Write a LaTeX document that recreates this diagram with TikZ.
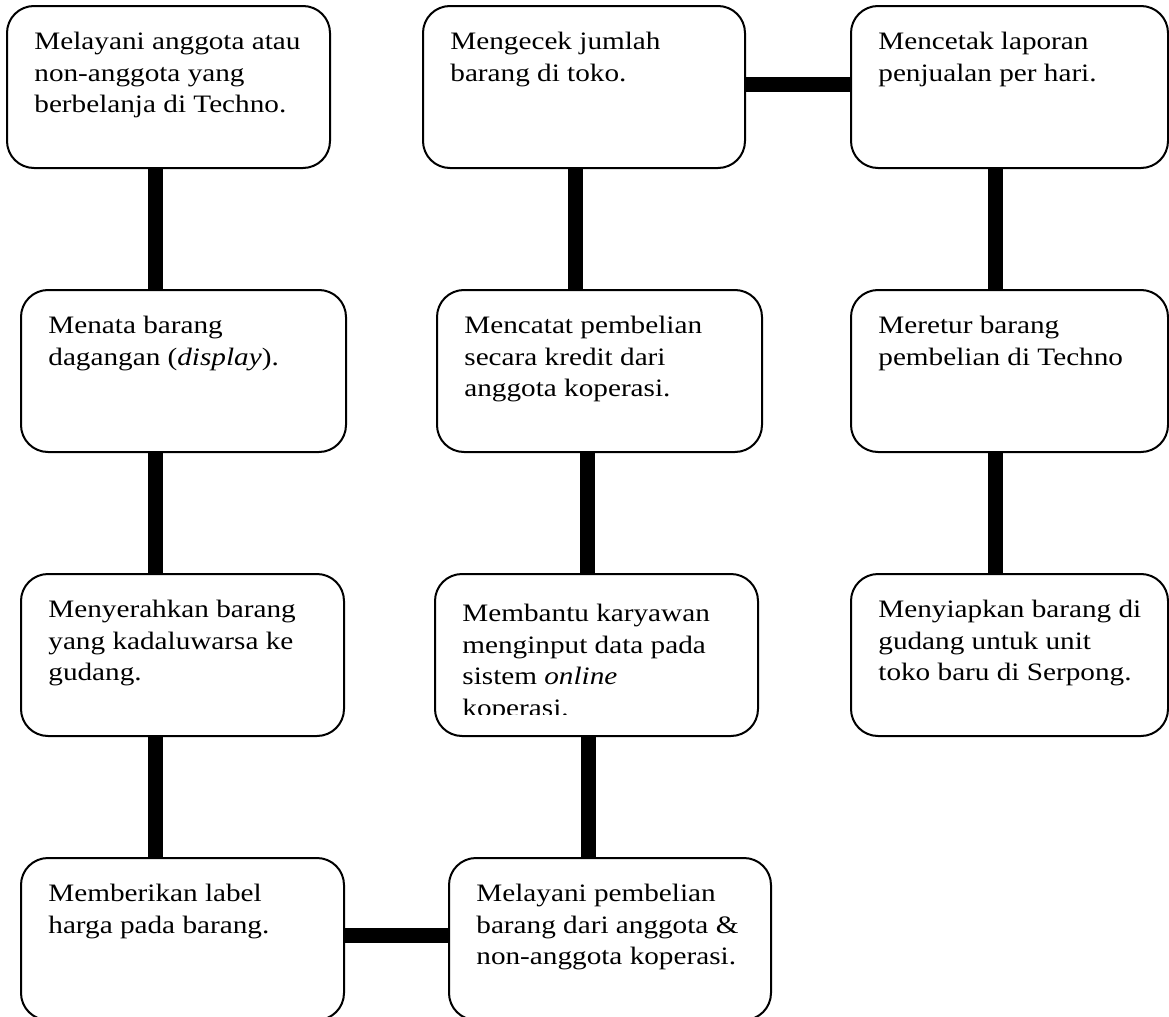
\documentclass[tikz,border=0pt]{standalone}
\usepackage{fontspec}
\setmainfont[FakeStretch=1.165]{Liberation Serif}
\usetikzlibrary{calc}
\tikzset{
%Define style for the rounded boxes
step box/.style={draw, line width=1pt, rounded corners=13.5pt, fill=white,
inner sep=0pt, anchor=north west, minimum height=81pt},
%Define style for the text inside a box
step text/.style={anchor=north west, inner sep=0pt, align=left,
font=\fontsize{12.54}{15.85}\selectfont},
%Define style for the thick connections
link line/.style={line width=7.5pt}, }

\begin{document}
\begin{tikzpicture}[x=0.5pt, y=-0.5pt]

\clip (0,0) rectangle (1169,1017);
\fill[white] (0,0) rectangle (1169,1017);

\path coordinate (colA) at (155,0) coordinate (colB1) at (575,0)
coordinate (colB2) at (587,0) coordinate (colB3) at (588,0)
coordinate (colC) at (995,0) coordinate (rowT) at (0,84)
coordinate (rowB) at (0,935);

% first column
\node[step box, minimum width=161.5pt] (a1) at (6,5) {};
\node[step box, minimum width=162.5pt] (a2) at (20,289) {};
\node[step box, minimum width=161.5pt] (a3) at (20,573) {};
\node[step box, minimum width=161.5pt] (a4) at (20,857) {};

% second column
\node[step box, minimum width=161pt] (b1) at (422,5) {};
\node[step box, minimum width=162.5pt] (b2) at (436,289) {};
\node[step box, minimum width=161.5pt] (b3) at (434,573) {};
\node[step box, minimum width=161pt] (b4) at (448,857) {};

% third column
\node[step box, minimum width=158.5pt] (c1) at (850,5) {};
\node[step box, minimum width=158.5pt] (c2) at (850,289) {};
\node[step box, minimum width=158.5pt] (c3) at (850,573) {};

\draw[link line] (a1.south -| colA) -- (a2.north -| colA);
\draw[link line] (a2.south -| colA) -- (a3.north -| colA);
\draw[link line] (a3.south -| colA) -- (a4.north -| colA);
\draw[link line] (a4.east |- rowB) -- (b4.west |- rowB);
\draw[link line] (b4.north -| colB3) -- (b3.south -| colB3);
\draw[link line] (b3.north -| colB2) -- (b2.south -| colB2);
\draw[link line] (b2.north -| colB1) -- (b1.south -| colB1);
\draw[link line] (b1.east |- rowT) -- (c1.west |- rowT);
\draw[link line] (c1.south -| colC) -- (c2.north -| colC);
\draw[link line] (c2.south -| colC) -- (c3.north -| colC);

\node[step text] (a1t) at ($(a1.north west)+(28,22)$) {\strut Melayani
anggota atau\\ non-anggota yang\\ berbelanja di Techno.};
\node[step text] (a2t) at ($(a2.north west)+(28,22)$) {\strut Menata
barang\\ dagangan (\textit{display}).};
\node[step text] (a3t) at ($(a3.north west)+(28,22)$) {\strut Menyerahkan
barang\\ yang kadaluwarsa ke\\ gudang.};
\node[step text] (a4t) at ($(a4.north west)+(28,22)$) {\strut Memberikan
label\\ harga pada barang.};

\node[step text] (b1t) at ($(b1.north west)+(28,22)$) {\strut Mengecek
jumlah\\ barang di toko.};
\node[step text] (b2t) at ($(b2.north west)+(28,22)$) {\strut Mencatat
pembelian\\ secara kredit dari\\ anggota koperasi.};
\begin{scope}
\clip (434,573) rectangle (757,714);
\node[step text] (b3t) at ($(b3.north west)+(28,26)$) {\strut Membantu
karyawan\\ menginput data pada\\ sistem \textit{online}\\ koperasi.};
\end{scope}
\node[step text] (b4t) at ($(b4.north west)+(28,22)$) {\strut Melayani
pembelian\\ barang dari anggota \&\\ non-anggota koperasi.};

\node[step text] (c1t) at ($(c1.north west)+(28,22)$) {\strut Mencetak
laporan\\ penjualan per hari.};
\node[step text] (c2t) at ($(c2.north west)+(28,22)$) {\strut Meretur
barang\\ pembelian di Techno};
\node[step text] (c3t) at ($(c3.north west)+(28,22)$) {\strut Menyiapkan
barang di\\ gudang untuk unit\\ toko baru di Serpong.};

\end{tikzpicture}
\end{document}
